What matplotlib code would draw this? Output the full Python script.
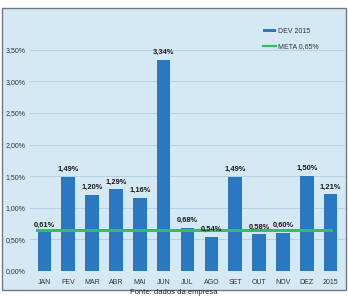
import matplotlib
matplotlib.use("Agg")
import matplotlib.pyplot as plt
from matplotlib.patches import Rectangle
from matplotlib.lines import Line2D

categories = ["JAN", "FEV", "MAR", "ABR", "MAI", "JUN", "JUL", "AGO", "SET", "OUT", "NOV", "DEZ", "2015"]
dev_2015 = [0.61, 1.49, 1.20, 1.29, 1.16, 3.34, 0.68, 0.54, 1.49, 0.58, 0.60, 1.50, 1.21]
meta = 0.65
yticks = [0.0, 0.5, 1.0, 1.5, 2.0, 2.5, 3.0, 3.5]

plt.rcParams['font.family'] = ['Liberation Sans', 'DejaVu Sans']

W, H = 348, 297
fig = plt.figure(figsize=(W / 100, H / 100), dpi=100)
fig.patch.set_facecolor("white")

# panel background
panel = Rectangle((1.5 / W, (H - 289.5) / H), 344.5 / W, 282 / H, transform=fig.transFigure,
                  facecolor="#d5e9f5", edgecolor="#6d7a85", linewidth=1.0, zorder=-10)
fig.patches.append(panel)

ax = fig.add_axes([30 / W, (H - 271) / H, 315 / W, 253 / H])
ax.set_zorder(1)
ax.set_facecolor("none")
x = list(range(len(categories)))
bar_color = "#2a78c2"
bars = ax.bar(x, dev_2015, width=0.57, color=bar_color, zorder=2, label="DEV 2015")
ax.plot([-0.3, 12], [meta, meta], color="#3cb86a", linewidth=2.2, zorder=3, label="META 0,65%")

for xi, v in zip(x, dev_2015):
    ax.text(xi, v + 0.06, f"{v:.2f}%".replace(".", ","), ha="center", va="bottom",
            fontsize=5.4, fontweight="bold", color="#1a1a1a", zorder=4)

ax.set_xlim(-0.6, 12.6)
ax.set_ylim(0, 4.0)
ax.set_yticks(yticks)
ax.set_yticklabels([f"{t:.2f}%".replace(".", ",") for t in yticks], fontsize=5, color="#333333")
ax.set_xticks(x)
ax.set_xticklabels(categories, fontsize=5, color="#333333")
ax.tick_params(length=0, pad=6)
ax.tick_params(axis="y", pad=3)
for s in ax.spines.values():
    s.set_visible(False)
ax.yaxis.grid(True, color="#b0cce0", linewidth=0.6, zorder=1)
ax.set_axisbelow(True)

handles = [Rectangle((0, 0), 1, 1, facecolor=bar_color),
           Line2D([0], [0], color="#3cb86a", linewidth=1.6)]
leg = ax.legend(handles, ["DEV 2015", "META 0,65%"], loc="upper right",
                bbox_to_anchor=(0.935, 0.985), frameon=False, fontsize=5,
                handlelength=1.8, handleheight=0.35, labelspacing=1.2, handletextpad=0.3)
for t in leg.get_texts():
    t.set_color("#333333")

fig.text(0.5, 0.002, "Fonte: dados da empresa", ha="center", va="bottom", fontsize=5.5, color="#222222")

fig.savefig("out.png", dpi=100)
